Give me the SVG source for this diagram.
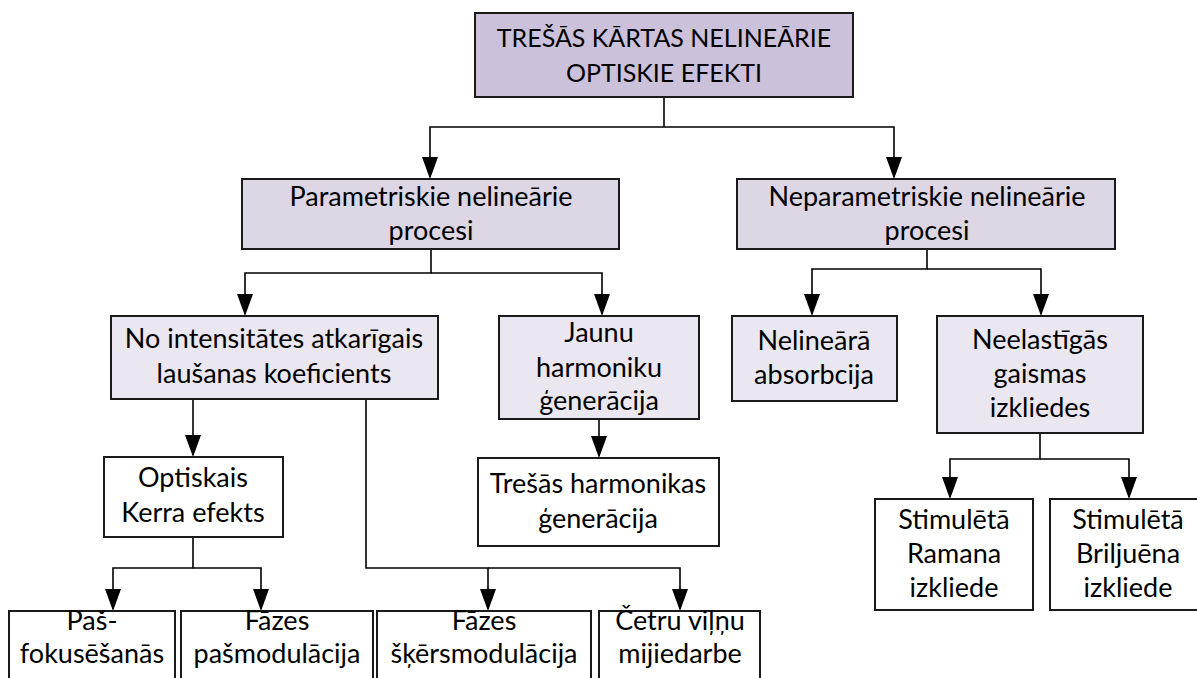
<svg xmlns="http://www.w3.org/2000/svg" width="1197" height="678" viewBox="0 0 1197 678">
<style>
.b{stroke:#1a1a1a;stroke-width:2}
.l0{fill:#ccc1da}
.l1{fill:#dcd6e5}
.l2{fill:#eae7f0}
.w{fill:#ffffff}
text{font-family:Lato,"Open Sans","Liberation Sans",sans-serif;font-size:27px;fill:#000;text-anchor:middle}
.cap{font-size:25px}
.c{fill:none;stroke:#000;stroke-width:1.6}
</style>
<g id="connectors">
<path class="c" d="M664 97 V127"/>
<path class="c" d="M664 127 H430 V177"/>
<path class="c" d="M664 127 H894 V177"/>
<path class="c" d="M431 249 V273 H245 V314"/>
<path class="c" d="M431 273 H602 V314"/>
<path class="c" d="M927 249 V269 H812 V314"/>
<path class="c" d="M927 269 H1041 V314"/>
<path class="c" d="M193 399 V455"/>
<path class="c" d="M366 399 V568 H488 V609"/>
<path class="c" d="M488 568 H680 V609"/>
<path class="c" d="M193 537 V568 H113 V609"/>
<path class="c" d="M193 568 H261 V609"/>
<path class="c" d="M599 419 V456"/>
<path class="c" d="M1040 433 V459 H950 V497"/>
<path class="c" d="M1040 459 H1129 V497"/>
<g fill="#000">
<path d="M422 157 H438 L430 179 Z"/>
<path d="M886 157 H902 L894 179 Z"/>
<path d="M237 294 H253 L245 316 Z"/>
<path d="M594 294 H610 L602 316 Z"/>
<path d="M804 294 H820 L812 316 Z"/>
<path d="M1033 294 H1049 L1041 316 Z"/>
<path d="M185 435 H201 L193 457 Z"/>
<path d="M480 589 H496 L488 611 Z"/>
<path d="M672 589 H688 L680 611 Z"/>
<path d="M105 589 H121 L113 611 Z"/>
<path d="M253 589 H269 L261 611 Z"/>
<path d="M591 436 H607 L599 458 Z"/>
<path d="M942 477 H958 L950 499 Z"/>
<path d="M1121 477 H1137 L1129 499 Z"/>
</g>
</g>
<g id="n-top"><rect class="b l0" x="475" y="13" width="378" height="84"/><text class="cap" x="664" y="47">TREŠĀS KĀRTAS NELINEĀRIE</text><text class="cap" x="664" y="82">OPTISKIE EFEKTI</text></g>
<g id="n-param"><rect class="b l1" x="242" y="179" width="377" height="70"/><text x="431" y="206">Parametriskie nelineārie</text><text x="431" y="240">procesi</text></g>
<g id="n-nepar"><rect class="b l1" x="737" y="179" width="378" height="70"/><text x="927" y="206">Neparametriskie nelineārie</text><text x="927" y="240">procesi</text></g>
<g id="n-noint"><rect class="b l2" x="111" y="316" width="327" height="83"/><text x="274" y="348">No intensitātes atkarīgais</text><text x="274" y="383">laušanas koeficients</text></g>
<g id="n-jaunu"><rect class="b l2" x="499" y="316" width="200" height="103"/><text x="599" y="342">Jaunu</text><text x="599" y="377">harmoniku</text><text x="599" y="410">ģenerācija</text></g>
<g id="n-nelin"><rect class="b l2" x="732" y="316" width="165" height="85"/><text x="814" y="350">Nelineārā</text><text x="814" y="384">absorbcija</text></g>
<g id="n-neel"><rect class="b l2" x="937" y="316" width="206" height="117"/><text x="1040" y="349">Neelastīgās</text><text x="1040" y="383">gaismas</text><text x="1040" y="417">izkliedes</text></g>
<g id="n-opt"><rect class="b w" x="104" y="457" width="179" height="80"/><text x="193" y="487">Optiskais</text><text x="193" y="522">Kerra efekts</text></g>
<g id="n-treshas"><rect class="b w" x="478" y="458" width="241" height="88"/><text x="598" y="493">Trešās harmonikas</text><text x="598" y="528">ģenerācija</text></g>
<g id="n-raman"><rect class="b w" x="875" y="499" width="158" height="111"/><text x="954" y="529">Stimulētā</text><text x="954" y="563">Ramana</text><text x="954" y="597">izkliede</text></g>
<g id="n-brill"><rect class="b w" x="1050" y="499" width="160" height="111"/><text x="1128" y="529">Stimulētā</text><text x="1128" y="563">Briljuēna</text><text x="1128" y="597">izkliede</text></g>
<g id="n-pas"><rect class="b w" x="9" y="611" width="166" height="80"/><text x="92" y="630">Paš-</text><text x="92" y="663">fokusēšanās</text></g>
<g id="n-fpas"><rect class="b w" x="181" y="611" width="192" height="80"/><text x="277" y="630">Fāzes</text><text x="277" y="663">pašmodulācija</text></g>
<g id="n-fsk"><rect class="b w" x="377" y="611" width="214" height="80"/><text x="484" y="630">Fāzes</text><text x="484" y="663">šķērsmodulācija</text></g>
<g id="n-cetru"><rect class="b w" x="599" y="611" width="161" height="80"/><text x="680" y="630">Četru viļņu</text><text x="680" y="663">mijiedarbe</text></g>
</svg>
